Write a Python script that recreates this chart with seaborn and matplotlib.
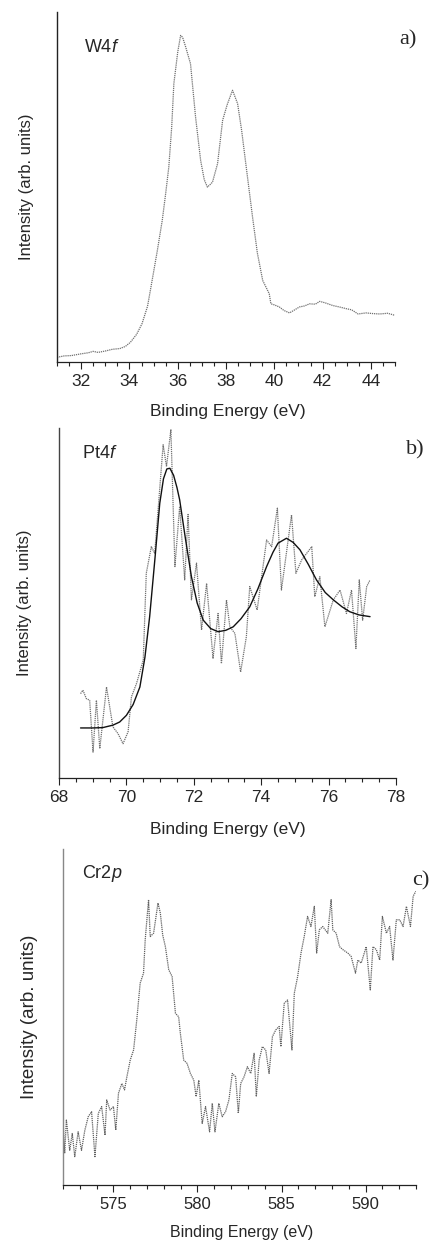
import numpy as np
import pandas as pd
import matplotlib
matplotlib.use("Agg")
import matplotlib.pyplot as plt
from matplotlib.ticker import MultipleLocator
import seaborn as sns

# ---------------- data ----------------
w_energy = [31.0, 31.3, 31.6, 32.0, 32.3, 32.5, 32.7, 33.0, 33.3, 33.6, 33.83, 34.04,
            34.3, 34.52, 34.75, 34.94, 35.15, 35.36, 35.5, 35.63, 35.75, 35.84, 36.0,
            36.12, 36.2, 36.33, 36.53, 36.74, 36.95, 37.1, 37.23, 37.44, 37.65, 37.86,
            38.05, 38.27, 38.48, 38.65, 38.82, 39.10, 39.3, 39.52, 39.79, 39.86, 40.0,
            40.21, 40.4, 40.63, 40.85, 41.04, 41.25, 41.46, 41.7, 41.88, 42.1, 42.43,
            42.7, 42.99, 43.2, 43.47, 43.8, 44.1, 44.37, 44.7, 45.0]
w_intensity = [1.2, 1.6, 1.7, 2.2, 2.5, 2.9, 2.6, 3.0, 3.5, 3.7, 4.3, 5.5,
               7.8, 10.8, 15.8, 23.2, 31.5, 40.4, 48.0, 55.6, 67.0, 79.5, 88.5,
               93.3, 92.8, 90.0, 85.2, 69.9, 57.5, 52.0, 49.9, 51.3, 56.6, 69.0,
               73.5, 77.6, 73.8, 66.0, 56.6, 41.3, 31.0, 23.2, 19.4, 16.5, 16.2,
               15.6, 14.6, 13.9, 14.8, 15.6, 15.9, 16.5, 16.4, 17.2, 16.8, 16.0,
               15.6, 15.1, 14.8, 13.6, 13.9, 13.7, 13.6, 13.8, 13.2]

pt_energy = [68.64, 68.71, 68.81, 68.91, 69.01, 69.11, 69.21, 69.41, 69.60, 69.75,
             69.90, 70.05, 70.15, 70.30, 70.50, 70.59, 70.74, 70.84, 70.94, 71.09,
             71.19, 71.32, 71.44, 71.58, 71.73, 71.83, 71.93, 72.08, 72.23, 72.38,
             72.57, 72.72, 72.82, 72.97, 73.07, 73.22, 73.39, 73.56, 73.66, 73.88,
             74.16, 74.31, 74.48, 74.60, 74.90, 75.03, 75.20, 75.50, 75.59, 75.74,
             75.89, 76.14, 76.34, 76.53, 76.68, 76.81, 76.91, 77.01, 77.13, 77.23]
pt_intensity = [24.1, 25.1, 22.7, 22.2, 7.4, 22.2, 8.4, 26.0, 14.6, 12.7,
                9.8, 13.2, 23.2, 27.0, 33.7, 58.5, 66.1, 64.2, 76.6, 95.2,
                89.0, 99.5, 60.4, 77.6, 56.6, 75.3, 50.9, 61.4, 42.3, 55.6,
                34.2, 47.0, 32.7, 50.9, 43.2, 41.3, 30.3, 40.4, 54.7, 48.0,
                68.0, 66.1, 77.1, 53.7, 75.2, 58.5, 62.3, 66.1, 51.8, 57.5,
                43.2, 50.9, 53.7, 47.0, 53.7, 37.0, 56.6, 45.1, 54.7, 56.6]

pt_fit_energy = [68.64, 69.0, 69.3, 69.6, 69.8, 70.0, 70.2, 70.4, 70.55, 70.69, 70.85,
                 70.99, 71.1, 71.2, 71.29, 71.4, 71.5, 71.58, 71.75, 71.93, 72.1, 72.28,
                 72.5, 72.72, 72.95, 73.17, 73.4, 73.66, 73.9, 74.16, 74.35, 74.5, 74.75,
                 74.95, 75.15, 75.4, 75.64, 75.9, 76.14, 76.4, 76.63, 76.9, 77.23]
pt_fit_intensity = [14.3, 14.3, 14.4, 15.1, 16.0, 17.9, 21.0, 26.0, 34.5, 46.1, 63.0,
                    78.5, 85.5, 88.3, 88.5, 86.5, 83.0, 79.5, 68.5, 57.5, 50.0, 45.1,
                    42.7, 41.8, 42.2, 43.2, 45.5, 48.9, 54.0, 60.4, 64.5, 67.1, 68.5,
                    67.3, 65.2, 61.0, 56.6, 53.0, 50.9, 48.9, 47.5, 46.6, 46.1]

cr_energy = [571.95, 572.0, 572.1, 572.2, 572.4, 572.55, 572.7, 572.9, 573.1, 573.3,
             573.5, 573.7, 573.9, 574.1, 574.3, 574.5, 574.6, 574.8, 575.0, 575.14,
             575.3, 575.5, 575.66, 575.8, 576.0, 576.2, 576.39, 576.59, 576.79, 576.89,
             577.09, 577.19, 577.39, 577.65, 577.79, 577.93, 578.09, 578.29, 578.49, 578.69,
             578.88, 578.98, 579.18, 579.38, 579.58, 579.78, 579.92, 580.08, 580.28, 580.48,
             580.72, 580.88, 581.04, 581.27, 581.47, 581.67, 581.87, 582.07, 582.27, 582.43,
             582.57, 582.77, 582.97, 583.17, 583.37, 583.5, 583.67, 583.86, 584.06, 584.26,
             584.46, 584.66, 584.86, 584.96, 585.16, 585.36, 585.62, 585.76, 585.96, 586.16,
             586.35, 586.55, 586.75, 586.95, 587.09, 587.25, 587.45, 587.75, 587.95, 588.05,
             588.25, 588.45, 588.65, 588.94, 589.14, 589.4, 589.54, 589.74, 590.04, 590.28,
             590.44, 590.64, 590.84, 591.0, 591.24, 591.43, 591.63, 591.83, 592.03, 592.23,
             592.43, 592.67, 592.83, 592.99]
cr_intensity = [5.3, 19.2, 9.3, 19.2, 10.2, 15.2, 8.3, 15.7, 10.2, 16.2,
                20.2, 21.7, 8.3, 21.2, 23.2, 14.7, 25.2, 22.2, 23.2, 16.2,
                27.2, 30.1, 28.2, 32.1, 37.1, 40.1, 49.1, 60.0, 63.0, 72.9,
                84.9, 73.9, 74.9, 83.9, 80.9, 74.4, 70.9, 64.0, 62.0, 51.0,
                50.0, 45.1, 37.1, 36.1, 33.1, 31.1, 26.2, 31.1, 18.2, 23.2,
                15.7, 24.2, 15.7, 24.2, 20.2, 21.7, 25.2, 33.1, 32.1, 21.2,
                30.1, 32.1, 35.1, 33.1, 39.1, 26.2, 37.1, 41.1, 40.1, 33.1,
                44.1, 46.1, 47.1, 41.1, 54.0, 55.0, 40.1, 57.0, 62.0, 69.0,
                73.9, 79.9, 76.9, 82.9, 69.0, 75.9, 76.9, 74.9, 84.9, 75.9,
                74.9, 70.9, 70.0, 69.0, 68.0, 63.0, 66.9, 66.0, 70.9, 58.0,
                70.9, 70.0, 66.9, 79.9, 74.9, 76.9, 66.9, 78.9, 78.9, 76.9,
                82.9, 76.9, 85.9, 87.4]

panel_tags = ["a)", "b)", "c)"]
xlims = [(31, 45), (68, 78), (572, 593)]
major_steps = [2, 2, 5]
minor_steps = [0.5, 0.5, 1]
xlabel = "Binding Energy (eV)"
ylabel = "Intensity (arb. units)"

# ---------------- style ----------------
sns.set_style("ticks")
plt.rcParams["font.family"] = ["Liberation Sans", "DejaVu Sans"]
plt.rcParams["mathtext.fontset"] = "custom"
plt.rcParams["mathtext.rm"] = "Liberation Sans"
plt.rcParams["mathtext.it"] = "Liberation Sans:italic"

W, H = 432, 1246
fig = plt.figure(figsize=(W / 100, H / 100), dpi=100)

def box(l, r, t, b):
    return [l / W, 1 - b / H, (r - l) / W, (b - t) / H]

axA = fig.add_axes(box(57, 395, 12, 361.5))
axB = fig.add_axes(box(59, 396, 428, 778))
axC = fig.add_axes(box(63, 416, 849, 1184.5))

data_color = "#707070"
dot = (0, (1.0, 0.7))

sns.lineplot(x=w_energy, y=w_intensity, ax=axA, sort=False, estimator=None,
             color=data_color, lw=0.9, linestyle=dot)
sns.lineplot(x=pt_energy, y=pt_intensity, ax=axB, sort=False, estimator=None,
             color=data_color, lw=0.9, linestyle=dot)
sns.lineplot(x=pt_fit_energy, y=pt_fit_intensity, ax=axB, sort=False, estimator=None,
             color="#111111", lw=1.0)
sns.lineplot(x=cr_energy, y=cr_intensity, ax=axC, sort=False, estimator=None,
             color="#606060", lw=0.9, linestyle=dot)

ylab_x = [-0.068, -0.080, -0.070]
xlab_y = [-0.122, -0.126, -0.120]
xlab_x = [0.506, 0.50, 0.507]
tick_sizes = [12.5, 12.5, 12]
xlab_sizes = [12.5, 12.5, 11.5]
ylab_sizes = [12, 12, 13.5]
spine_colors = ["#222222", "#444444", "#888888"]

for i, ax in enumerate([axA, axB, axC]):
    ax.set_xlim(*xlims[i])
    ax.set_ylim(0, 100)
    ax.set_yticks([])
    ax.xaxis.set_major_locator(MultipleLocator(major_steps[i]))
    ax.xaxis.set_minor_locator(MultipleLocator(minor_steps[i]))
    ax.tick_params(axis="x", which="major", length=5, width=0.8, pad=4,
                   labelsize=tick_sizes[i], color="#222222")
    ax.tick_params(axis="x", which="minor", length=3, width=0.8, color="#222222")
    for s in ["top", "right"]:
        ax.spines[s].set_visible(False)
    ax.spines["left"].set_color(spine_colors[i])
    ax.spines["bottom"].set_color("#222222")
    ax.spines["left"].set_linewidth(1.0)
    ax.spines["bottom"].set_linewidth(0.9)
    ax.set_xlabel(xlabel, fontsize=xlab_sizes[i])
    ax.set_ylabel(ylabel, fontsize=ylab_sizes[i])
    ax.xaxis.set_label_coords(xlab_x[i], xlab_y[i])
    ax.yaxis.set_label_coords(ylab_x[i], 0.5)

def px(x, y):
    return x / W, 1 - y / H

fig.text(*px(84, 47), r"W$\mathit{4f}$", fontsize=13, ha="left", va="center")
fig.text(*px(82, 453), r"Pt$\mathit{4f}$", fontsize=13, ha="left", va="center")
fig.text(*px(82, 874), r"Cr2$\mathit{p}$", fontsize=13, ha="left", va="center")

tag_pos = [(408, 40), (415, 450), (421, 881)]
for t, (x, y) in zip(panel_tags, tag_pos):
    fig.text(*px(x, y), t, fontsize=16, ha="center", va="center",
             family=["Liberation Serif", "DejaVu Serif"])

fig.savefig("out.png", dpi=100)
